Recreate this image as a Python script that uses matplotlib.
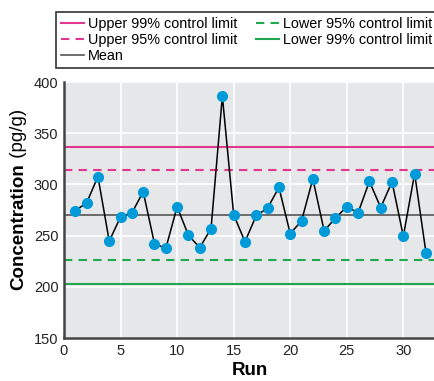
import matplotlib.pyplot as plt
import numpy as np

plt.rcParams['font.family'] = ['Liberation Sans', 'DejaVu Sans']

# Data
runs = np.arange(1, 33)
concentration = [274.5, 281.9, 307.7, 244.6, 268.4, 272.0, 292.9, 242.1,
                 237.5, 278.1, 250.4, 238.2, 256.9, 386.2, 270.4, 244.0,
                 269.7, 276.8, 297.1, 252.0, 264.3, 305.4, 254.6, 267.2,
                 278.1, 272.3, 302.9, 277.4, 302.5, 249.4, 310.6, 233.4]

mean_val = 270
upper_99 = 337
upper_95 = 314.5
lower_95 = 226
lower_99 = 203

x_ticks = [0, 5, 10, 15, 20, 25, 30]
y_ticks = [150, 200, 250, 300, 350, 400]

magenta = '#e2378f'
green = '#1fa84f'

fig = plt.figure(figsize=(4.35, 3.81), dpi=100)
ax = fig.add_axes([64 / 435, 1 - 338 / 381, 371 / 435, (338 - 82) / 381])
ax.set_facecolor('#e6e7e8')

ax.grid(True, color='white', linewidth=1.2)
ax.set_axisbelow(True)

h_u99 = ax.axhline(upper_99, color=magenta, lw=1.5, label='Upper 99% control limit')
h_u95 = ax.axhline(upper_95, color=magenta, lw=1.5, ls=(0, (4, 3)), label='Upper 95% control limit')
h_mean = ax.axhline(mean_val, color='#555555', lw=1.2, label='Mean')
h_l95 = ax.axhline(lower_95, color=green, lw=1.5, ls=(0, (4, 3)), label='Lower 95% control limit')
h_l99 = ax.axhline(lower_99, color=green, lw=1.5, label='Lower 99% control limit')

ax.plot(runs, concentration, color='black', lw=1.1, marker='o',
        markersize=7, markerfacecolor='#009ad9', markeredgecolor='#009ad9', zorder=5)

ax.set_xlim(0, 32.8)
ax.set_ylim(150, 400)
ax.set_xticks(x_ticks)
ax.set_yticks(y_ticks)
ax.tick_params(length=0, labelsize=10.5, colors='#222222', pad=4)

for s in ['top', 'right']:
    ax.spines[s].set_visible(False)
for s in ['left', 'bottom']:
    ax.spines[s].set_color('#444444')
    ax.spines[s].set_linewidth(1.8)

ax.set_xlabel('Run', fontsize=13.5, fontweight='bold', labelpad=3)

t1 = fig.text(19 / 435, 1 - 290 / 381, 'Concentration', rotation=90,
              fontsize=13.5, fontweight='bold', ha='center', va='bottom')
ax.annotate(' (pg/g)', xy=(0.5, 1), xycoords=t1, rotation=90,
            fontsize=13.5, ha='center', va='bottom')

leg = fig.legend(handles=[h_u99, h_u95, h_mean, h_l95, h_l99], ncol=2,
                 loc='upper left', bbox_to_anchor=(56 / 435, 1 - 12 / 381),
                 fontsize=10.4, frameon=True, fancybox=False, edgecolor='black',
                 handlelength=1.6, handletextpad=0.25, columnspacing=1.3,
                 labelspacing=0.15, borderpad=0.35, borderaxespad=0)
leg.get_frame().set_linewidth(1.2)

fig.savefig('out.png', dpi=100)
